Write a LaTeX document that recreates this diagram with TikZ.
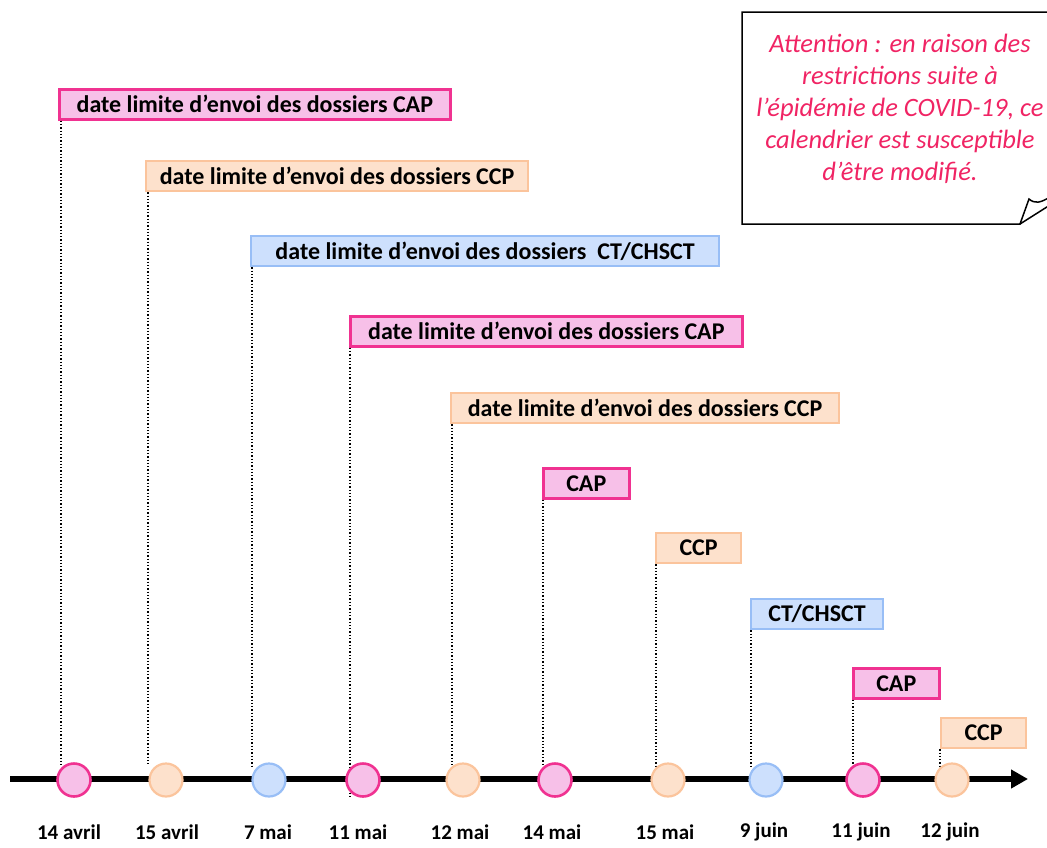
\documentclass[tikz,border=0pt]{standalone}
\usepackage{fontspec}
\setmainfont{Carlito}
\usetikzlibrary{arrows.meta}
\definecolor{capline}{RGB}{240,50,145}
\definecolor{capfill}{RGB}{247,192,232}
\definecolor{ccpline}{RGB}{251,196,156}
\definecolor{ccpfill}{RGB}{253,225,204}
\definecolor{ctline}{RGB}{152,190,246}
\definecolor{ctfill}{RGB}{205,224,253}
\definecolor{warn}{RGB}{240,36,100}

\begin{document}
\begin{tikzpicture}[x=1pt, y=-1pt]
                        % bN = box above, cN = circle on the axis, dN = date below
                        \tikzstyle{every node}=[font=\bfseries\fontsize{24}{28}\selectfont, inner sep=0pt]
                        \tikzstyle{capbox}=[draw=capline, fill=capfill, line width=2.6pt]
                        \tikzstyle{ccpbox}=[draw=ccpline, fill=ccpfill, line width=2.2pt]
                        \tikzstyle{ctbox}=[draw=ctline, fill=ctfill, line width=2.2pt]
                        \tikzstyle{datebox}=[anchor=north west, minimum height=30pt]
                        \tikzstyle{ring}=[circle, minimum size=33pt]
                        \tikzstyle{guide}=[dotted, line width=1.3pt]
                        \tikzstyle{day}=[font=\bfseries\fontsize{21}{24}\selectfont]
                        \useasboundingbox (0,0) rectangle (1047,847);

                        \node[capbox, datebox, minimum width=391pt] (b1) at (58,88) {date limite d’envoi des dossiers CAP};
                        \node[ccpbox, datebox, minimum width=382pt] (b2) at (145,160) {date limite d’envoi des dossiers CCP};
                        \node[ctbox, datebox, minimum width=468pt] (b3) at (250,235) {date limite d’envoi des dossiers\ \ CT/CHSCT};
                        \node[capbox, datebox, minimum width=392pt] (b4) at (349,315) {date limite d’envoi des dossiers CAP};
                        \node[ccpbox, datebox, minimum width=388pt] (b5) at (450,392) {date limite d’envoi des dossiers CCP};
                        \node[capbox, datebox, minimum width=86pt] (b6) at (542,467) {CAP};
                        \node[ccpbox, datebox, minimum width=85pt] (b7) at (655,532) {CCP};
                        \node[ctbox, datebox, minimum width=132pt] (b8) at (750,598) {CT/CHSCT};
                        \node[capbox, datebox, minimum width=86pt] (b9) at (852,667) {CAP};
                        \node[ccpbox, datebox, minimum width=85pt] (b10) at (940,717) {CCP};

                        \coordinate (t0) at (10,779);
                        \coordinate (t1) at (1028,779);
                        \coordinate (e4) at (350,797);

                        \node[day] (d1) at (69,832) {14 avril};
                        \node[day] (d2) at (167,832) {15 avril};
                        \node[day] (d3) at (268,832) {7 mai};
                        \node[day] (d4) at (358,832) {11 mai};
                        \node[day] (d5) at (460,832) {12 mai};
                        \node[day] (d6) at (552,832) {14 mai};
                        \node[day] (d7) at (665,832) {15 mai};
                        \node[day] (d8) at (764,832) {9 juin};
                        \node[day] (d9) at (861,832) {11 juin};
                        \node[day] (d10) at (950,832) {12 juin};

                        \draw[guide] ([xshift=3pt]b1.south west) -- ([xshift=3pt]b1.south west |- 0,766);
                        \draw[guide] ([xshift=3pt]b2.south west) -- ([xshift=3pt]b2.south west |- 0,766);
                        \draw[guide] ([xshift=2pt]b3.south west) -- ([xshift=2pt]b3.south west |- 0,766);
                        \draw[guide] ([xshift=1pt]b4.south west) -- ([xshift=1pt]b4.south west |- e4);
                        \draw[guide] ([xshift=2pt]b5.south west) -- ([xshift=2pt]b5.south west |- 0,766);
                        \draw[guide] ([xshift=1pt]b6.south west) -- ([xshift=1pt]b6.south west |- 0,766);
                        \draw[guide] ([xshift=1pt]b7.south west) -- ([xshift=1pt]b7.south west |- 0,766);
                        \draw[guide] ([xshift=1pt]b8.south west) -- ([xshift=1pt]b8.south west |- 0,766);
                        \draw[guide] ([xshift=1pt]b9.south west) -- ([xshift=1pt]b9.south west |- 0,766);
                        \draw[guide] (b10.south west) -- (b10.south west |- 0,766);

                        \draw[line width=6.5pt, -{Triangle[length=17pt, width=18pt]}] (t0) -- (t1);

                        \node[capbox, ring] (c1) at (74,780) {};
                        \node[ccpbox, ring] (c2) at (166,780) {};
                        \node[ctbox, ring] (c3) at (269,780) {};
                        \node[capbox, ring] (c4) at (363,780) {};
                        \node[ccpbox, ring] (c5) at (463,780) {};
                        \node[capbox, ring] (c6) at (555,780) {};
                        \node[ccpbox, ring] (c7) at (668,780) {};
                        \node[ctbox, ring] (c8) at (766,780) {};
                        \node[capbox, ring] (c9) at (863,780) {};
                        \node[ccpbox, ring] (c10) at (952,780) {};

                        % the note with its turned-up corner
                        \draw[line width=1.5pt, line join=miter] (1065,12) -- (742,12) -- (742,224) -- (1020,224) -- (1029,199)
                                .. controls (1035,204) and (1040,203) .. (1050,197);
                        \draw[line width=1.5pt] (1020,224) -- (1050,205);
                        \node[font=\mdseries\itshape\fontsize{26.5}{32}\selectfont, text=warn, align=center] (note) at (900,109)
                                {Attention : en raison des\\ restrictions suite à\\ l’épidémie de COVID-19, ce\\ calendrier est susceptible\\ d’être modifié.};
\end{tikzpicture}
\end{document}
